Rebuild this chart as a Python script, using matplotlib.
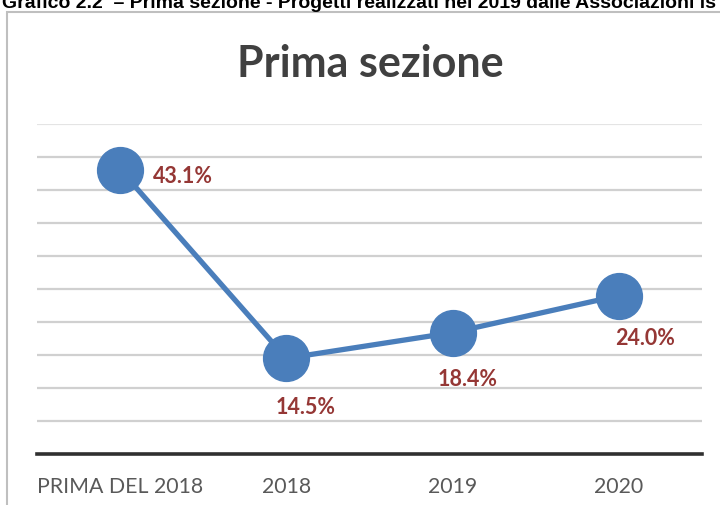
import matplotlib.pyplot as plt
from matplotlib.patches import Rectangle

# dati
categorie = ["PRIMA DEL 2018", "2018", "2019", "2020"]
valori = [43.1, 14.5, 18.4, 24.0]
etichette = ["43.1%", "14.5%", "18.4%", "24.0%"]

# spostamento delle etichette (punti)
offset_etichette = [(45, -4), (14, -35), (11, -33), (19, -30)]

blu = "#4A7EBB"
rosso = "#953735"

fig = plt.figure(figsize=(7.2, 5.06), dpi=100)

# cornice del grafico
fig.patches.append(Rectangle((7 / 720, -0.05), 1.1, 1 - 13 / 506 + 0.05,
                             transform=fig.transFigure, fill=False,
                             edgecolor="#BFBFBF", linewidth=1.5))

# intestazione (tagliata in alto come nell'originale)
fig.text(0.003, 1 - 8 / 506,
         "Grafico 2.2  – Prima sezione - Progetti realizzati nel 2019 dalle Associazioni is",
         family=["Liberation Sans Narrow", "Liberation Sans"], weight="bold",
         fontsize=14, va="baseline", ha="left", color="black")

fig.text(370 / 720, 1 - 64 / 506, "Prima sezione", family=["Lato", "DejaVu Sans"],
         weight="bold", fontsize=31, color="#404040", ha="center", va="center")

ax = fig.add_axes([37 / 720, 1 - 455 / 506, 665 / 720, 330 / 506])
x = range(len(categorie))
ax.plot(x, valori, color=blu, linewidth=3.8, marker="o", markersize=33,
        markerfacecolor=blu, markeredgecolor=blu, zorder=3, clip_on=False)

for xi, v, testo, off in zip(x, valori, etichette, offset_etichette):
    ax.annotate(testo, (xi, v), xytext=off, textcoords="offset points",
                ha="center", va="center", color=rosso, fontsize=15.5,
                weight="bold", family=["Lato", "DejaVu Sans"])

ax.set_xlim(-0.5, len(categorie) - 0.5)
ax.set_ylim(0, 50)
ax.set_yticks(range(5, 51, 5))
ax.yaxis.grid(True, color="#D0D0D0", linewidth=1.6)
ax.get_ygridlines()[-1].set_color("#E4E4E4")
ax.set_axisbelow(True)
ax.tick_params(axis="y", left=False, labelleft=False)
ax.set_xticks(list(x))
ax.set_xticklabels(categorie, family=["Lato", "DejaVu Sans"], fontsize=15.3,
                   color="#595959")
ax.tick_params(axis="x", length=0, pad=16)
for lato in ["top", "left", "right"]:
    ax.spines[lato].set_visible(False)
ax.spines["bottom"].set_color("#303030")
ax.spines["bottom"].set_linewidth(2.6)

fig.savefig("out.png", dpi=100)
